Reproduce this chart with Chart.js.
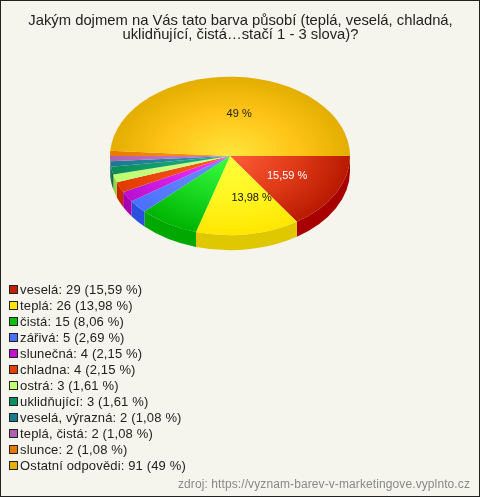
<!DOCTYPE html>
<html>
<head>
<meta charset="utf-8">
<script src="https://cdn.jsdelivr.net/npm/chart.js@4"></script>
<style>
html, body { margin: 0; padding: 0; background: #f5f5ee; }
#wrap { position: relative; width: 478px; height: 495px; border: 1px solid #222; overflow: hidden; font-family: "Liberation Sans", Arial, sans-serif; }
#chart { position: absolute; left: -1px; top: -1px; }
#title { position: absolute; left: 0; width: 479px; top: 12px; text-align: center; font-size: 14.8px; line-height: 14px; color: #222; }
#legend { position: absolute; left: 8px; top: 281px; font-size: 13px; letter-spacing: 0.15px; color: #222; }
#legend div { height: 16px; line-height: 16px; white-space: nowrap; }
#legend i { display: inline-block; width: 7px; height: 7px; border: 1px solid #222; margin-right: 2px; vertical-align: 0; }
#source { position: absolute; right: 9px; top: 476px; font-size: 12px; letter-spacing: 0.1px; color: #888; }
</style>
</head>
<body>
<div id="wrap">
  <canvas id="chart" width="480" height="497"></canvas>
  <div id="title"></div>
  <div id="legend"></div>
  <div id="source">zdroj: https://vyznam-barev-v-marketingove.vyplnto.cz</div>
</div>
<script>
var titleLines = ['Jakým dojmem na Vás tato barva působí (teplá, veselá, chladná,', 'uklidňující, čistá…stačí 1 - 3 slova)?'];
var categories = ['veselá', 'teplá', 'čistá', 'zářivá', 'slunečná', 'chladna', 'ostrá', 'uklidňující', 'veselá, výrazná', 'teplá, čistá', 'slunce', 'Ostatní odpovědi'];
var counts = [29, 26, 15, 5, 4, 4, 3, 3, 2, 2, 2, 91];
var percents = ['15,59', '13,98', '8,06', '2,69', '2,15', '2,15', '1,61', '1,61', '1,08', '1,08', '1,08', '49'];

var swatchColors = ['#c22000', '#ffe600', '#0cc00c', '#4a70ff', '#c010d0', '#e84000', '#c4ff70', '#0a9060', '#1a7a90', '#b060b0', '#e87800', '#e8b000'];
var innerColors = ['#ff5c3a', '#ffff3c', '#3cff40', '#6a90ff', '#f03cff', '#ff5a20', '#d0ff90', '#20b080', '#3090a8', '#c880d0', '#ff9a20', '#ffe63c'];
var midColors = ['#e03a18', '#fff520', '#18d820', '#5a80ff', '#d820e8', '#f04a10', '#c8ff80', '#15a070', '#25859c', '#bc70c0', '#f48a10', '#ffc518'];
var outerColors = ['#b81a00', '#ffe600', '#00b400', '#4a70ff', '#b810d0', '#e03c00', '#bcff70', '#0a8a58', '#1a7a90', '#b060b0', '#e87800', '#e3ae00'];
var sideColors = ['#a80000', '#e0c800', '#00a800', '#2a50e0', '#a800b0', '#c82800', '#98d040', '#087040', '#106070', '#905090', '#c06000', '#c09000'];
var labelColors = ['#fff', '#111', '#111', '#111', '#111', '#111', '#111', '#111', '#111', '#111', '#111', '#222'];
// the source image sets its slice labels a little right of the slice middle
var labelShift = [1, 12, 0, 0, 0, 0, 0, 0, 0, 0, 0, 7];

var squash = 0.66;
var depth = 15;

var pie3d = {
    id: 'pie3d',
    beforeDatasetsDraw: function (chart) {
        var ctx = chart.ctx;
        var arcs = chart.getDatasetMeta(0).data;
        ctx.save();
        arcs.forEach(function (arc, i) {
            var start = Math.max(arc.startAngle, 0);
            var end = Math.min(arc.endAngle, Math.PI);
            if (end <= start) return;
            var rx = arc.outerRadius, ry = rx * squash;
            ctx.beginPath();
            ctx.ellipse(arc.x, arc.y, rx, ry, 0, start, end);
            ctx.ellipse(arc.x, arc.y + depth, rx, ry, 0, end, start, true);
            ctx.closePath();
            ctx.fillStyle = sideColors[i];
            ctx.fill();
        });
        ctx.restore();
        var a = arcs[0];
        ctx.save();
        ctx.translate(a.x, a.y);
        ctx.scale(1, squash);
        ctx.translate(-a.x, -a.y);
    },
    afterDatasetsDraw: function (chart) {
        var ctx = chart.ctx;
        ctx.restore();
        ctx.save();
        ctx.font = '11px "Liberation Sans", Arial, sans-serif';
        ctx.textAlign = 'center';
        ctx.textBaseline = 'middle';
        chart.getDatasetMeta(0).data.forEach(function (arc, i) {
            if (parseFloat(percents[i]) < 10) return;
            var mid = (arc.startAngle + arc.endAngle) / 2;
            var r = arc.outerRadius * 0.53;
            ctx.fillStyle = labelColors[i];
            ctx.fillText(percents[i] + ' %', arc.x + Math.cos(mid) * r + labelShift[i], arc.y + Math.sin(mid) * r * squash);
        });
        ctx.restore();
    }
};

new Chart(document.getElementById('chart'), {
    type: 'pie',
    plugins: [pie3d],
    data: {
        labels: categories,
        datasets: [{
            data: counts,
            borderWidth: 0,
            clip: false,
            backgroundColor: function (c) {
                var area = c.chart.chartArea;
                if (!area) return swatchColors[c.dataIndex];
                var cx = (area.left + area.right) / 2, cy = (area.top + area.bottom) / 2;
                var g = c.chart.ctx.createRadialGradient(cx, cy, 0, cx, cy, 120);
                g.addColorStop(0, innerColors[c.dataIndex]);
                g.addColorStop(0.55, midColors[c.dataIndex]);
                g.addColorStop(1, outerColors[c.dataIndex]);
                return g;
            }
        }]
    },
    options: {
        responsive: false,
        animation: false,
        rotation: 90,
        radius: 120,
        layout: { padding: { left: 110, right: 130, top: 36, bottom: 221 } },
        plugins: {
            legend: { display: false },
            tooltip: { enabled: false },
            title: { display: false }
        }
    }
});

var title = document.getElementById('title');
titleLines.forEach(function (line) {
    var row = document.createElement('div');
    row.textContent = line;
    title.appendChild(row);
});

var legend = document.getElementById('legend');
categories.forEach(function (name, i) {
    var row = document.createElement('div');
    var box = document.createElement('i');
    box.style.background = swatchColors[i];
    row.appendChild(box);
    row.appendChild(document.createTextNode(name + ': ' + counts[i] + ' (' + percents[i] + ' %)'));
    legend.appendChild(row);
});
</script>
</body>
</html>
